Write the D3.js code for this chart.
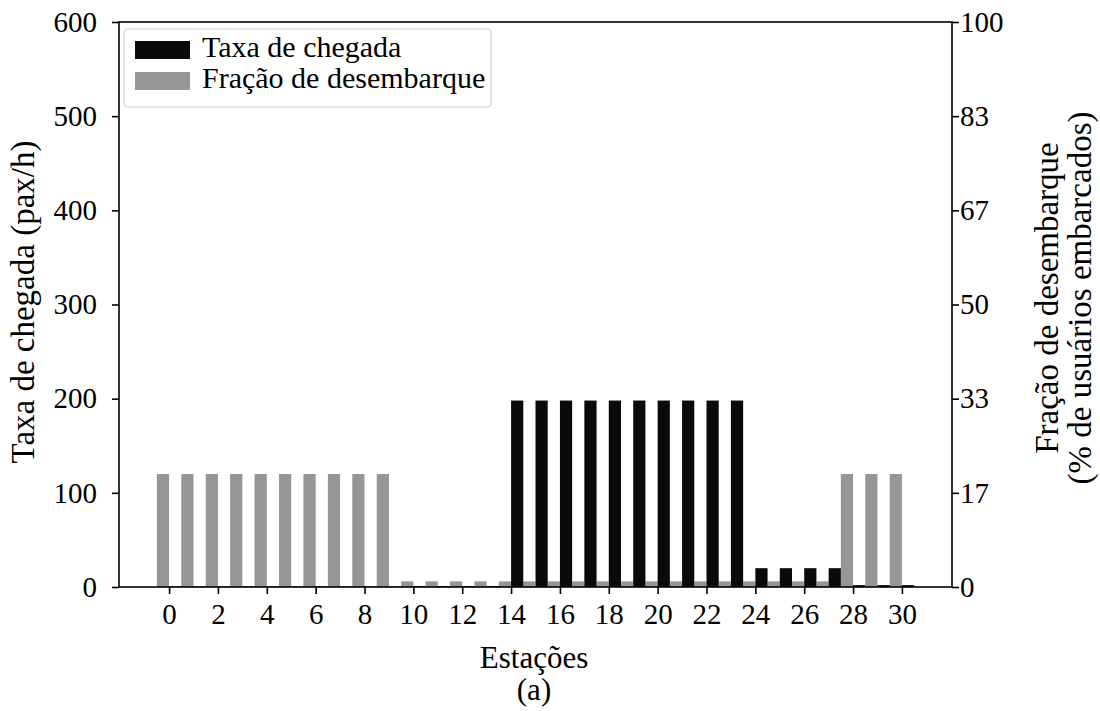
<!DOCTYPE html>
<html>
<head>
<meta charset="utf-8">
<script src="https://cdn.jsdelivr.net/npm/d3@7"></script>
<style>
  html, body { margin: 0; padding: 0; background: #fff; }
  svg text { font-family: "Liberation Serif", "DejaVu Serif", serif; fill: #000; }
</style>
</head>
<body>
<svg id="chart" width="1100" height="711"></svg>
<script>
// Stations along the line
const stations = d3.range(0, 31);

// Arrival rate per station (pax/h)
const arrivalRate = [
  0.5, 0.5, 0.5, 0.5, 0.5, 0.5, 0.5, 0.5, 0.5, 0.5,
  1, 1, 1, 1,
  198, 198, 198, 198, 198, 198, 198, 198, 198, 198,
  20, 20, 20, 20,
  2, 2, 2
];

// Alighting fraction per station (% of boarded users)
const alightingPct = [
  20, 20, 20, 20, 20, 20, 20, 20, 20, 20,
  1, 1, 1, 1, 1, 1, 1, 1, 1, 1, 1, 1, 1, 1, 1, 1, 1, 1,
  20, 20, 20
];

const leftTicks = [0, 100, 200, 300, 400, 500, 600];
const rightTicks = [0, 17, 33, 50, 67, 83, 100];
const xTicks = d3.range(0, 31, 2);

const seriesNames = ["Taxa de chegada", "Fração de desembarque"];
const colors = ["#0a0a0a", "#969696"];

const svg = d3.select("#chart");
const L = 119, R = 952, T = 22, B = 587;
const fsTick = 29, fsTitle = 33, fsX = 31, fsLegend = 30;

const x = d3.scaleLinear().domain([-2.05, 32.05]).range([L, R]);
const yL = d3.scaleLinear().domain([0, 600]).range([B, T]);
const yR = d3.scaleLinear().domain([0, 100]).range([B, T]);
const barW = 0.5;

// Alighting fraction bars sit just left of each station tick
svg.append("g").selectAll("rect")
  .data(stations)
  .join("rect")
  .attr("x", d => x(d - barW))
  .attr("width", d => x(d) - x(d - barW))
  .attr("y", d => yR(alightingPct[d]))
  .attr("height", d => B - yR(alightingPct[d]))
  .attr("fill", colors[1]);

// Arrival rate bars sit just right of each station tick
svg.append("g").selectAll("rect")
  .data(stations)
  .join("rect")
  .attr("x", d => x(d))
  .attr("width", d => x(d + barW) - x(d))
  .attr("y", d => yL(arrivalRate[d]))
  .attr("height", d => B - yL(arrivalRate[d]))
  .attr("fill", colors[0]);

// Frame
svg.append("rect")
  .attr("x", L).attr("y", T)
  .attr("width", R - L).attr("height", B - T)
  .attr("fill", "none").attr("stroke", "#000").attr("stroke-width", 1.6);

function styleAxis(g) {
  g.select(".domain").remove();
  g.selectAll(".tick line").attr("stroke", "#000").attr("stroke-width", 1.6);
  g.selectAll(".tick text")
    .style("font-family", "Liberation Serif, DejaVu Serif, serif")
    .attr("font-size", fsTick).attr("fill", "#000");
}

// Left axis
svg.append("g")
  .attr("transform", `translate(${L},0)`)
  .call(d3.axisLeft(yL).tickValues(leftTicks).tickSize(7).tickPadding(15))
  .call(styleAxis);

// Right axis (percent labels at the same heights)
svg.append("g")
  .attr("transform", `translate(${R},0)`)
  .call(d3.axisRight(yL).tickValues(leftTicks).tickSize(7).tickPadding(1)
    .tickFormat((d, i) => rightTicks[i]))
  .call(styleAxis);

// Bottom axis
svg.append("g")
  .attr("transform", `translate(0,${B})`)
  .call(d3.axisBottom(x).tickValues(xTicks).tickSize(7).tickPadding(9))
  .call(styleAxis);

// Axis titles
svg.append("text")
  .attr("transform", `translate(34,302) rotate(-90)`)
  .attr("text-anchor", "middle").attr("font-size", fsTitle)
  .text("Taxa de chegada (pax/h)");

svg.append("text")
  .attr("transform", `translate(1058,298) rotate(-90)`)
  .attr("text-anchor", "middle").attr("font-size", fsTitle)
  .text("Fração de desembarque");
svg.append("text")
  .attr("transform", `translate(1091,298) rotate(-90)`)
  .attr("text-anchor", "middle").attr("font-size", fsTitle)
  .text("(% de usuários embarcados)");

svg.append("text")
  .attr("x", 534).attr("y", 668)
  .attr("text-anchor", "middle").attr("font-size", fsX)
  .text("Estações");
svg.append("text")
  .attr("x", 534).attr("y", 700)
  .attr("text-anchor", "middle").attr("font-size", fsX)
  .text("(a)");

// Legend
const lg = svg.append("g");
lg.append("rect")
  .attr("x", 124).attr("y", 29).attr("width", 367).attr("height", 78)
  .attr("rx", 4).attr("fill", "#fff").attr("fill-opacity", 0.8)
  .attr("stroke", "#d0d0d0").attr("stroke-width", 1.2);
seriesNames.forEach((name, i) => {
  const yy = 41 + i * 31;
  lg.append("rect").attr("x", 135).attr("y", yy).attr("width", 55).attr("height", 18)
    .attr("fill", colors[i]);
  lg.append("text").attr("x", 202).attr("y", yy + 16).attr("font-size", fsLegend).text(name);
});
</script>
</body>
</html>
